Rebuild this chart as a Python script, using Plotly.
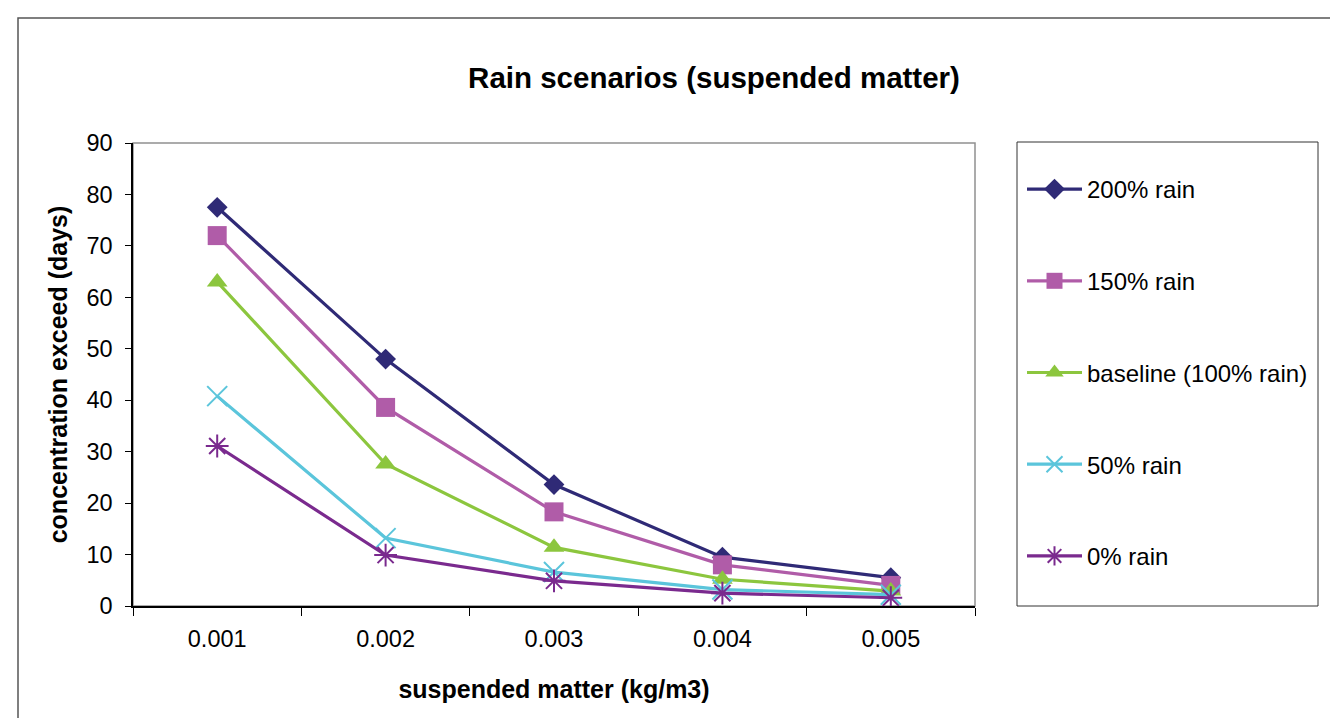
import plotly.graph_objects as go

categories = ["0.001", "0.002", "0.003", "0.004", "0.005"]
rain_200 = [77.5, 48.0, 23.6, 9.5, 5.5]
rain_150 = [72.0, 38.6, 18.3, 8.0, 4.0]
baseline = [63.0, 27.6, 11.4, 5.2, 2.9]
rain_50 = [40.8, 13.2, 6.6, 3.2, 2.2]
rain_0 = [31.1, 9.9, 4.9, 2.5, 1.6]

names = ["200% rain", "150% rain", "baseline (100% rain)", "50% rain", "0% rain"]
series = [rain_200, rain_150, baseline, rain_50, rain_0]
colors = ["#2F2A76", "#B05CA8", "#8CC63E", "#5BC5DB", "#7A2A8E"]
symbols = ["diamond", "square", "triangle-up", "x-thin-open", "asterisk-open"]
sizes = [16, 19, 18, 20, 19]

FONT = "Liberation Sans, Arial, sans-serif"

fig = go.Figure()
for i, (nm, vals, c, sym, sz) in enumerate(zip(names, series, colors, symbols, sizes)):
    marker = dict(symbol=sym, size=sz, color=c)
    if sym.endswith("open"):
        marker["line"] = dict(color=c, width=2)
    fig.add_trace(go.Scatter(
        x=categories, y=vals, name=nm, mode="lines+markers",
        line=dict(color=c, width=3.2), marker=marker,
        legendgroup=f"g{i}",
    ))

# page body has an 8px margin; work in reference pixels, shifted by OFF
OFF = 8
W, H = 1338 - OFF, 718 - OFF
L = 133 - OFF
T = 143 - OFF
R = W - (975 - OFF)
B = H - (606 - OFF)
pw = W - L - R
ph = H - T - B

def px_x(p):
    return (p - OFF - L) / pw

def px_y(p):
    return (H - B - (p - OFF)) / ph

shapes = [
    # outer chart border
    dict(type="rect", xref="paper", yref="paper",
         x0=px_x(18), x1=px_x(1400), y0=px_y(760), y1=px_y(18),
         line=dict(color="#555555", width=1.5), layer="below"),
    # plot area border
    dict(type="rect", xref="paper", yref="paper",
         x0=0, x1=1, y0=0, y1=1,
         line=dict(color="#909090", width=1.5), layer="below"),
    # legend box
    dict(type="rect", xref="paper", yref="paper",
         x0=px_x(1017), x1=px_x(1318), y0=px_y(606), y1=px_y(142),
         line=dict(color="#333333", width=1), layer="below"),
]

fig.update_layout(
    width=W, height=H,
    margin=dict(l=L, r=R, t=T, b=B, pad=0),
    paper_bgcolor="white", plot_bgcolor="white",
    font=dict(family=FONT, size=24, color="black"),
    title=dict(text="<b>Rain scenarios (suspended matter)</b>",
               x=(714 - OFF) / W, xanchor="center", y=1 - (78 - OFF) / H, yanchor="middle",
               font=dict(size=29.5, family=FONT, color="black")),
    showlegend=True,
    legend=dict(x=px_x(1022), y=px_y(167), xanchor="left", yanchor="top",
                bgcolor="rgba(0,0,0,0)", borderwidth=0,
                font=dict(size=24, family=FONT),
                tracegroupgap=57.5, itemwidth=55),
    shapes=shapes,
)

fig.update_xaxes(
    type="category", range=[-0.5, 4.5], tickson="boundaries", ticks="outside", ticklen=8,
    tickcolor="black", showline=True, linecolor="black", linewidth=1.5,
    showgrid=False, zeroline=False, ticklabelstandoff=11,
    tickfont=dict(size=23.5, family=FONT),
    title=dict(text="<b>suspended matter (kg/m3)</b>", standoff=30,
               font=dict(size=25, family=FONT)),
)
fig.update_yaxes(
    range=[0, 90], dtick=10, ticks="outside", ticklen=6, tickcolor="black",
    showline=True, linecolor="black", linewidth=1.5,
    showgrid=False, zeroline=False, ticklabelstandoff=8,
    tickfont=dict(size=23.5, family=FONT),
    title=dict(text="<b>concentration exceed (days)</b>", standoff=12,
               font=dict(size=25, family=FONT)),
)

fig.write_html("out.html")
